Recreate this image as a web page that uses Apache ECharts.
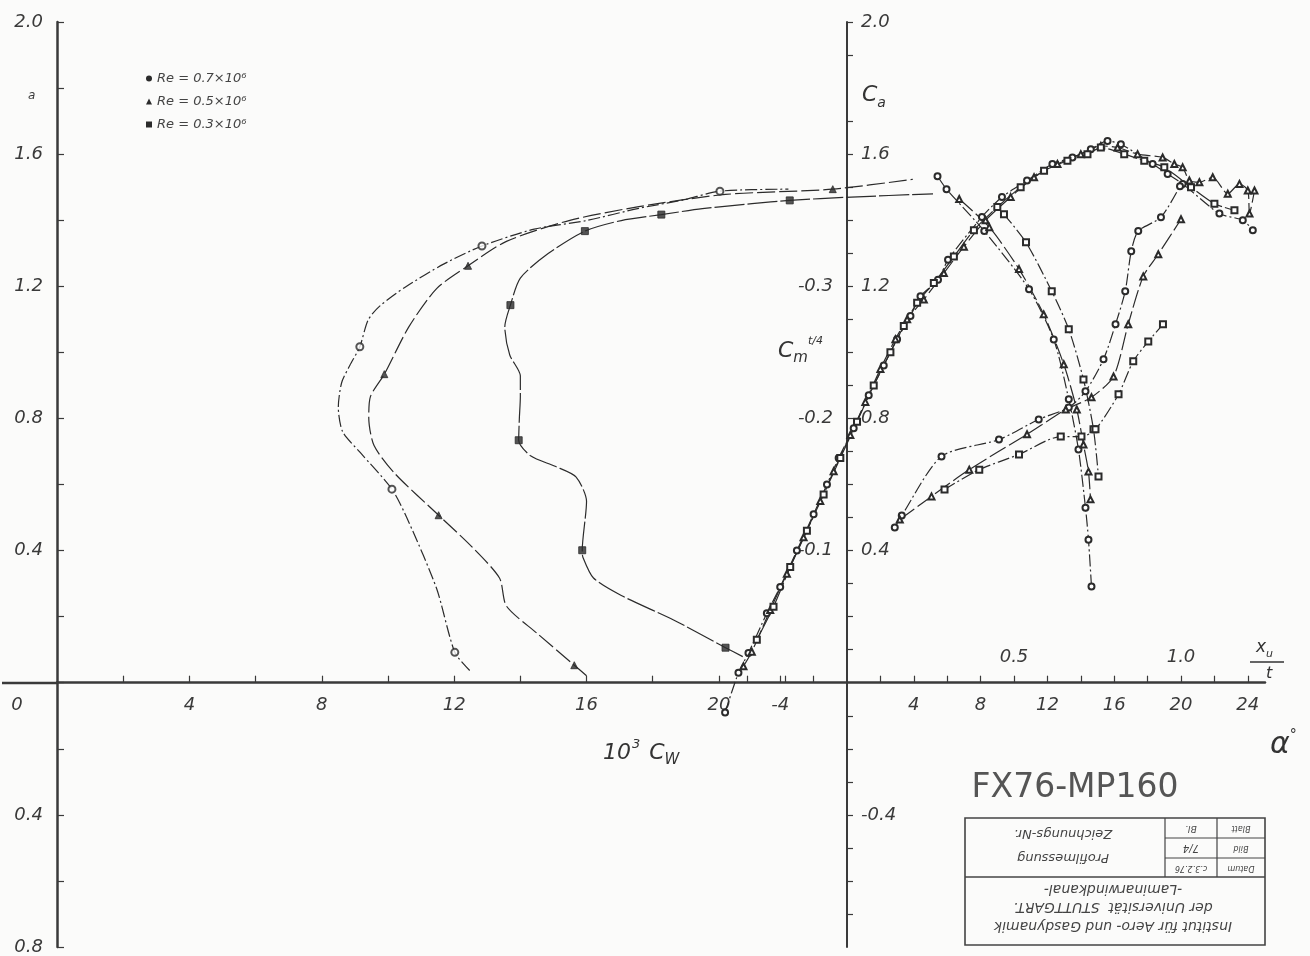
<!DOCTYPE html>
<html>
<head>
<meta charset="utf-8">
<title>FX76-MP160</title>
<script src="https://cdn.jsdelivr.net/npm/echarts@6/dist/echarts.min.js"></script>
<style>
  html, body { margin: 0; background: #fbfbfa; }
  #chart { width: 1310px; height: 956px; }
</style>
</head>
<body>
<div id="chart"></div>
<script>
// Reynolds numbers
const reNames = ['Re = 0.7×10⁶', 'Re = 0.5×10⁶', 'Re = 0.3×10⁶']

// drag polars [10^3 Cw, Ca]
const polarRe07 = [[12.47, 0.037], [12.02, 0.092], [11.47, 0.285], [10.63, 0.486], [10.12, 0.586], [9.16, 0.697],
  [8.63, 0.76], [8.5, 0.834], [8.6, 0.908], [8.85, 0.961], [9.15, 1.017], [9.4, 1.098], [9.75, 1.14], [10.53, 1.198],
  [11.68, 1.267], [12.84, 1.322], [14.42, 1.373], [16.0, 1.399], [17.58, 1.436], [18.95, 1.462], [20.03, 1.488], [22.1, 1.494]]
const polarRe07Pts = [[12.02, 0.092], [10.12, 0.586], [9.15, 1.017], [12.84, 1.322], [20.03, 1.488]]

const polarRe05 = [[16.0, 0.021], [15.63, 0.053], [14.5, 0.15], [13.58, 0.232], [13.37, 0.317], [12.53, 0.412],
  [11.53, 0.507], [10.21, 0.633], [9.58, 0.718], [9.42, 0.802], [9.47, 0.866], [9.89, 0.934], [10.63, 1.077],
  [11.47, 1.193], [12.42, 1.262], [13.58, 1.336], [15.47, 1.399], [17.58, 1.441], [20.2, 1.478], [23.44, 1.494], [25.86, 1.524]]
const polarRe05Pts = [[15.63, 0.053], [11.53, 0.507], [9.89, 0.934], [12.42, 1.262], [23.44, 1.494]]

const polarRe03 = [[20.72, 0.079], [20.2, 0.106], [18.63, 0.19], [17.05, 0.264], [16.21, 0.317], [15.89, 0.38],
  [15.87, 0.401], [16.0, 0.549], [15.68, 0.623], [15.05, 0.655], [14.32, 0.686], [13.95, 0.734], [13.97, 0.8],
  [14.0, 0.866], [14.0, 0.929], [13.68, 0.992], [13.53, 1.077], [13.7, 1.143], [14.0, 1.225], [14.84, 1.299],
  [15.95, 1.367], [17.05, 1.399], [18.26, 1.417], [19.5, 1.435], [21.0, 1.45], [22.14, 1.46], [24.0, 1.47], [26.47, 1.48]]
const polarRe03Pts = [[20.2, 0.106], [15.87, 0.401], [13.95, 0.734], [13.7, 1.143], [15.95, 1.367], [18.26, 1.417], [22.14, 1.46]]

// lift curves [alpha deg, Ca]
const liftRe07 = [[-7.3, -0.09], [-6.5, 0.03], [-5.9, 0.09], [-4.8, 0.21], [-4.0, 0.29], [-3.0, 0.4], [-2.0, 0.51],
  [-1.2, 0.6], [-0.5, 0.68], [0.4, 0.77], [1.3, 0.87], [2.2, 0.96], [3.0, 1.04], [3.8, 1.11], [4.4, 1.17], [5.45, 1.22],
  [6.05, 1.28], [8.08, 1.41], [9.28, 1.47], [10.78, 1.52], [12.3, 1.57], [13.5, 1.59], [14.6, 1.615], [15.6, 1.64],
  [16.4, 1.63], [18.3, 1.57], [19.2, 1.54], [20.1, 1.51], [22.3, 1.42], [23.7, 1.4], [24.3, 1.37]]
const liftRe05 = [[-6.2, 0.05], [-5.7, 0.094], [-4.6, 0.22], [-3.6, 0.33], [-2.6, 0.44], [-1.6, 0.55], [-0.8, 0.64],
  [0.2, 0.75], [1.1, 0.85], [2.0, 0.95], [2.9, 1.04], [3.6, 1.1], [4.6, 1.16], [5.8, 1.24], [7.0, 1.32], [8.3, 1.4],
  [9.8, 1.47], [11.2, 1.53], [12.6, 1.57], [14.0, 1.6], [15.2, 1.625], [16.2, 1.62], [17.4, 1.6], [18.9, 1.59],
  [19.6, 1.57], [20.1, 1.56], [20.5, 1.52], [21.1, 1.515], [21.9, 1.53], [22.8, 1.48], [23.5, 1.51], [24.0, 1.49],
  [24.1, 1.42], [24.4, 1.49]]
const liftRe03 = [[-5.4, 0.13], [-4.4, 0.23], [-3.4, 0.35], [-2.4, 0.46], [-1.4, 0.57], [-0.4, 0.68], [0.6, 0.79],
  [1.6, 0.9], [2.6, 1.0], [3.4, 1.08], [4.2, 1.15], [5.2, 1.21], [6.4, 1.29], [7.6, 1.37], [9.0, 1.44], [10.4, 1.5],
  [11.8, 1.55], [13.2, 1.58], [14.4, 1.6], [15.2, 1.62], [16.6, 1.6], [17.8, 1.58], [19.0, 1.56], [20.6, 1.5],
  [22.0, 1.45], [23.2, 1.43]]

// transition upper side [x_u/t, Ca]
const transUpRe07 = [[0.271, 1.533], [0.298, 1.494], [0.411, 1.367], [0.545, 1.191], [0.619, 1.039], [0.664, 0.858],
  [0.693, 0.706], [0.714, 0.53], [0.723, 0.433], [0.732, 0.291]]
const transUpRe05 = [[0.336, 1.464], [0.426, 1.379], [0.515, 1.252], [0.589, 1.115], [0.649, 0.964], [0.688, 0.827],
  [0.708, 0.721], [0.723, 0.639], [0.729, 0.555]]
const transUpRe03 = [[0.47, 1.418], [0.536, 1.333], [0.613, 1.185], [0.664, 1.07], [0.708, 0.918], [0.738, 0.767], [0.753, 0.624]]

// transition lower side [x/t, Ca]
const transLoRe07 = [[0.143, 0.47], [0.164, 0.506], [0.283, 0.685], [0.455, 0.736], [0.574, 0.797], [0.664, 0.833],
  [0.714, 0.882], [0.768, 0.979], [0.804, 1.085], [0.833, 1.185], [0.851, 1.306], [0.872, 1.367], [0.94, 1.409], [0.997, 1.503]]
const transLoRe05 = [[0.158, 0.494], [0.253, 0.564], [0.366, 0.645], [0.539, 0.752], [0.655, 0.827], [0.732, 0.864],
  [0.798, 0.927], [0.842, 1.085], [0.887, 1.23], [0.932, 1.297], [1.0, 1.403]]
const transLoRe03 = [[0.292, 0.585], [0.396, 0.645], [0.515, 0.691], [0.64, 0.745], [0.702, 0.745], [0.744, 0.767],
  [0.813, 0.873], [0.857, 0.973], [0.902, 1.033], [0.946, 1.085]]

// tick labels
const cwLabels = [4, 8, 12, 16, 20]
const cwTicks = [2, 4, 6, 8, 10, 12, 14, 16, 18, 20, 22]
const alphaLabels = [-4, 4, 8, 12, 16, 20, 24]
const alphaTicks = [-6, -4, -2, 2, 4, 6, 8, 10, 12, 14, 16, 18, 20, 22, 24]
const xtLabels = [0.5, 1.0]
const caTicks = [-0.8, -0.6, -0.4, -0.2, 0, 0.2, 0.4, 0.6, 0.8, 1.0, 1.2, 1.4, 1.6, 1.8, 2.0]
const caRightLabels = [2.0, 1.6, 1.2, 0.8, 0.4, -0.4]
const caRightTicks = [-0.7, -0.6, -0.5, -0.4, -0.3, -0.2, -0.1, 0.1, 0.2, 0.3, 0.4, 0.5, 0.6, 0.7, 0.8, 0.9, 1.0,
  1.1, 1.2, 1.3, 1.4, 1.5, 1.6, 1.7, 1.9, 2.0]
const cmLabels = [-0.3, -0.2, -0.1]

const ink = '#2b2b2b'
const labelFont = { fontFamily: 'DejaVu Sans', fontStyle: 'italic', fontSize: 18, color: '#3a3a3a' }

// grid is 57..1265 x 22..947; Ca = 0 sits 264.3px above the bottom, alpha = 0 sits 790px right of the left edge
const zeroLineOffset = -264.3
const rightAxisOffset = -790

const line = (name, data, xAxisIndex, dash, symbol, showSymbol) => ({
  name,
  type: 'line',
  xAxisIndex,
  yAxisIndex: 0,
  data,
  smooth: 0.25,
  showSymbol,
  symbol,
  symbolSize: 6,
  lineStyle: { color: ink, width: 1.2, type: dash },
  itemStyle: { color: ink, borderColor: ink },
  silent: true,
  z: 3,
})

const marks = (name, data, symbol) => ({
  name,
  type: 'scatter',
  xAxisIndex: 0,
  yAxisIndex: 0,
  data,
  symbol,
  symbolSize: 7,
  itemStyle: { color: ink, borderColor: ink },
  silent: true,
  z: 4,
})

const dashA = [12, 3, 2, 3]
const dashB = [18, 4]
const dashC = [30, 3]

const chart = echarts.init(document.getElementById('chart'))

const option = {
  animation: false,
  backgroundColor: '#fbfbfa',
  textStyle: { fontFamily: 'DejaVu Sans' },
  grid: { left: 57, top: 22, width: 1208, height: 925, containLabel: false, outerBoundsMode: 'none' },
  legend: {
    left: 141,
    top: 67,
    orient: 'vertical',
    itemGap: 10,
    itemWidth: 6,
    itemHeight: 6,
    selectedMode: false,
    textStyle: { fontFamily: 'DejaVu Sans', fontStyle: 'italic', fontSize: 13, color: '#444' },
    data: [
      { name: reNames[0], icon: 'circle' },
      { name: reNames[1], icon: 'triangle' },
      { name: reNames[2], icon: 'rect' },
    ],
  },
  xAxis: [
    {
      type: 'value', min: 0, max: 36.5, position: 'bottom', offset: zeroLineOffset,
      axisLine: { onZero: false, lineStyle: { color: '#3a3a3a', width: 2.5 } },
      axisTick: { inside: true, length: 7, customValues: cwTicks, lineStyle: { color: '#3a3a3a', width: 1.2 } },
      axisLabel: { ...labelFont, margin: 14, customValues: cwLabels },
      splitLine: { show: false },
    },
    {
      type: 'value', min: -47.305, max: 25.03, position: 'bottom', offset: zeroLineOffset,
      axisLine: { show: false, onZero: false },
      axisTick: { inside: true, length: 7, customValues: alphaTicks, lineStyle: { color: '#3a3a3a', width: 1.2 } },
      axisLabel: { ...labelFont, margin: 14, customValues: alphaLabels },
      splitLine: { show: false },
    },
    {
      type: 'value', min: -2.36525, max: 1.2515, position: 'bottom', offset: zeroLineOffset,
      axisLine: { show: false, onZero: false },
      axisTick: { show: false },
      axisLabel: { ...labelFont, inside: true, margin: 16, customValues: xtLabels, formatter: (v) => v.toFixed(1) },
      splitLine: { show: false },
    },
  ],
  yAxis: [
    {
      type: 'value', min: -0.8, max: 2.0, interval: 0.4, position: 'left',
      axisLine: { show: true, onZero: false, lineStyle: { color: '#3a3a3a', width: 2.5 } },
      axisTick: { inside: true, length: 7, customValues: caTicks, lineStyle: { color: '#3a3a3a', width: 1.2 } },
      axisLabel: { ...labelFont, margin: 14, formatter: (v) => (Math.abs(v) < 1e-9 ? '' : Math.abs(v).toFixed(1)) },
      splitLine: { show: false },
    },
    {
      type: 'value', min: -0.8, max: 2.0, position: 'left', offset: rightAxisOffset,
      axisLine: { show: true, onZero: false, lineStyle: { color: '#3a3a3a', width: 2 } },
      axisTick: { inside: true, length: 6, customValues: caRightTicks, lineStyle: { color: '#3a3a3a', width: 1.2 } },
      axisLabel: { ...labelFont, inside: true, margin: 14, customValues: caRightLabels, formatter: (v) => v.toFixed(1) },
      splitLine: { show: false },
    },
    {
      type: 'value', min: -0.5, max: 0.2, inverse: true, position: 'left', offset: rightAxisOffset,
      axisLine: { show: false, onZero: false },
      axisTick: { show: false },
      axisLabel: { ...labelFont, margin: 14, customValues: cmLabels, formatter: (v) => v.toFixed(1) },
      splitLine: { show: false },
    },
  ],
  series: [
    line(reNames[0], polarRe07, 0, dashA, 'none', false),
    marks(reNames[0], polarRe07Pts, 'emptyCircle'),
    line(reNames[1], polarRe05, 0, dashB, 'none', false),
    marks(reNames[1], polarRe05Pts, 'triangle'),
    line(reNames[2], polarRe03, 0, dashC, 'none', false),
    marks(reNames[2], polarRe03Pts, 'rect'),

    line(reNames[0], liftRe07, 1, dashA, 'emptyCircle', true),
    line(reNames[1], liftRe05, 1, dashB, 'emptyTriangle', true),
    line(reNames[2], liftRe03, 1, dashC, 'emptyRect', true),

    line(reNames[0], transUpRe07, 2, dashA, 'emptyCircle', true),
    line(reNames[1], transUpRe05, 2, dashB, 'emptyTriangle', true),
    line(reNames[2], transUpRe03, 2, dashA, 'emptyRect', true),

    line(reNames[0], transLoRe07, 2, dashA, 'emptyCircle', true),
    line(reNames[1], transLoRe05, 2, dashB, 'emptyTriangle', true),
    line(reNames[2], transLoRe03, 2, dashA, 'emptyRect', true),
  ],
  graphic: [
    // zero line runs a little past the left axis in the scan
    { type: 'line', shape: { x1: 2, y1: 683, x2: 57, y2: 683 }, style: { stroke: '#3a3a3a', lineWidth: 2.5 } },
    { type: 'text', x: 28, y: 90, style: { text: 'a', font: 'italic 12px DejaVu Sans', fill: '#3a3a3a' } },
    { type: 'text', x: 17, y: 705, style: { text: '0', font: 'italic 18px DejaVu Sans', fill: '#3a3a3a', align: 'center', verticalAlign: 'middle' } },
    {
      type: 'text', x: 603, y: 738,
      style: {
        text: '{n|10}{s|3}{n| C}{b|W}',
        fill: '#333',
        rich: {
          n: { fontFamily: 'DejaVu Sans', fontStyle: 'italic', fontSize: 22, lineHeight: 30, verticalAlign: 'middle' },
          s: { fontFamily: 'DejaVu Sans', fontStyle: 'italic', fontSize: 13, verticalAlign: 'top', padding: [0, 2, 0, 1] },
          b: { fontFamily: 'DejaVu Sans', fontStyle: 'italic', fontSize: 15, verticalAlign: 'bottom' },
        },
      },
    },
    {
      type: 'text', x: 862, y: 80,
      style: {
        text: '{c|C}{a|a}',
        fill: '#333',
        rich: {
          c: { fontFamily: 'DejaVu Sans', fontStyle: 'italic', fontSize: 22, lineHeight: 30, verticalAlign: 'middle' },
          a: { fontFamily: 'DejaVu Sans', fontStyle: 'italic', fontSize: 14, verticalAlign: 'bottom' },
        },
      },
    },
    {
      type: 'text', x: 778, y: 336,
      style: {
        text: '{c|C}{m|m}{f|t/4}',
        fill: '#333',
        rich: {
          c: { fontFamily: 'DejaVu Sans', fontStyle: 'italic', fontSize: 22, lineHeight: 30, verticalAlign: 'middle' },
          m: { fontFamily: 'DejaVu Sans', fontStyle: 'italic', fontSize: 15, verticalAlign: 'bottom' },
          f: { fontFamily: 'DejaVu Sans', fontStyle: 'italic', fontSize: 11, verticalAlign: 'top' },
        },
      },
    },
    {
      type: 'text', x: 1270, y: 728,
      style: {
        text: '{a|α}{d|°}',
        fill: '#333',
        rich: {
          a: { fontFamily: 'DejaVu Sans', fontStyle: 'italic', fontSize: 30, lineHeight: 34 },
          d: { fontFamily: 'DejaVu Sans', fontSize: 14, verticalAlign: 'top' },
        },
      },
    },
    {
      type: 'text', x: 1256, y: 636,
      style: {
        text: '{x|x}{u|u}',
        fill: '#333',
        rich: {
          x: { fontFamily: 'DejaVu Sans', fontStyle: 'italic', fontSize: 17, lineHeight: 24 },
          u: { fontFamily: 'DejaVu Sans', fontStyle: 'italic', fontSize: 11, verticalAlign: 'bottom' },
        },
      },
    },
    { type: 'line', shape: { x1: 1250, y1: 662, x2: 1284, y2: 662 }, style: { stroke: '#333', lineWidth: 1.5 } },
    { type: 'text', x: 1266, y: 666, style: { text: 't', font: 'italic 16px DejaVu Sans', fill: '#333' } },
    {
      type: 'text', x: 1075, y: 788,
      style: { text: 'FX76-MP160', font: '33px DejaVu Sans', fill: '#555', align: 'center', verticalAlign: 'middle' },
    },
    // title block (upside down, as in the scan)
    { type: 'rect', shape: { x: 965, y: 818, width: 300, height: 127 }, style: { fill: 'none', stroke: '#444', lineWidth: 1.6 } },
    { type: 'line', shape: { x1: 965, y1: 877, x2: 1265, y2: 877 }, style: { stroke: '#444', lineWidth: 1.4 } },
    { type: 'line', shape: { x1: 1165, y1: 818, x2: 1165, y2: 877 }, style: { stroke: '#444', lineWidth: 1.2 } },
    { type: 'line', shape: { x1: 1217, y1: 818, x2: 1217, y2: 877 }, style: { stroke: '#444', lineWidth: 1.2 } },
    { type: 'line', shape: { x1: 1165, y1: 838, x2: 1265, y2: 838 }, style: { stroke: '#444', lineWidth: 1 } },
    { type: 'line', shape: { x1: 1165, y1: 858, x2: 1265, y2: 858 }, style: { stroke: '#444', lineWidth: 1 } },
    ...[
      ['Zeichnungs-Nr.', 1063, 833, 13],
      ['Profilmessung', 1063, 857, 13],
      ['-Laminarwindkanal-', 1113, 889, 14],
      ['der Universität  STUTTGART.', 1113, 907, 14],
      ['Institut für Aero- und Gasdynamik', 1113, 926, 14],
      ['Bl.', 1191, 828, 9],
      ['7/4', 1191, 848, 10],
      ['c.3.2.76', 1191, 868, 8],
      ['Blatt', 1241, 828, 8],
      ['Bild', 1241, 848, 8],
      ['Datum', 1241, 868, 8],
    ].map(([text, x, y, size]) => ({
      type: 'text', x, y, rotation: Math.PI,
      style: { text, font: `italic ${size}px DejaVu Sans`, fill: '#444', align: 'center', verticalAlign: 'middle' },
    })),
  ],
}

chart.setOption(option)
</script>
</body>
</html>
